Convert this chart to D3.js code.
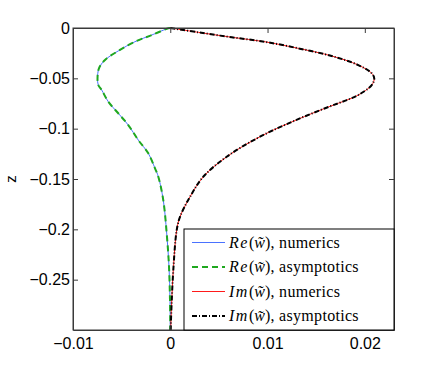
<!DOCTYPE html>
<html>
<head>
<meta charset="utf-8">
<script src="https://cdn.jsdelivr.net/npm/d3@7"></script>
<style>
    body { margin: 0; background: #fff; }
    svg { display: block; }
    .tick text { font-family: "Liberation Sans", Arial, sans-serif; font-size: 16px; fill: #000; }
</style>
</head>
<body>
<div id="chart"></div>
<script>
// depth values (z) and the profiles at those depths
const reZ = [0, -0.0003, -0.007, -0.0136, -0.0228, -0.0318, -0.04, -0.05, -0.0566, -0.0616, -0.0732,
    -0.0847, -0.0964, -0.1113, -0.1245, -0.1394, -0.1477, -0.1709, -0.2037, -0.2371, -0.27, -0.3];
const reNumerics = [0, -0.0002, -0.00191, -0.00363, -0.00535, -0.00671, -0.00733, -0.00748, -0.0074, -0.00705, -0.00637,
    -0.00535, -0.00432, -0.00329, -0.00226, -0.00157, -0.00123, -0.00072, -0.00037, -0.00013, -0.00003, 0];
const reAsymptotics = [0, -0.0002, -0.00191, -0.00363, -0.00535, -0.00671, -0.00733, -0.00748, -0.0074, -0.00705, -0.00637,
    -0.00535, -0.00432, -0.00329, -0.00226, -0.00157, -0.00123, -0.00072, -0.00037, -0.00013, -0.00003, 0];

const imZ = [0, -0.0043, -0.0092, -0.0137, -0.0202, -0.0278, -0.0368, -0.045, -0.05, -0.0567, -0.0666,
    -0.0716, -0.0782, -0.0915, -0.108, -0.1279, -0.1478, -0.1677, -0.1876, -0.2008, -0.2406, -0.2734, -0.3];
const imNumerics = [0, 0.00288, 0.00631, 0.00974, 0.01316, 0.01659, 0.01933, 0.02071, 0.02097, 0.02071, 0.01933,
    0.01814, 0.01632, 0.01292, 0.00922, 0.0058, 0.00339, 0.00203, 0.001, 0.00066, 0.00031, 0.00014, 0.00004];
const imAsymptotics = [0, 0.00288, 0.00631, 0.00974, 0.01316, 0.01659, 0.01933, 0.02071, 0.02097, 0.02071, 0.01933,
    0.01814, 0.01632, 0.01292, 0.00922, 0.0058, 0.00339, 0.00203, 0.001, 0.00066, 0.00031, 0.00014, 0.00004];

const xTicks = [-0.01, 0, 0.01, 0.02];
const yTicks = [0, -0.05, -0.1, -0.15, -0.2, -0.25];

const series = [
    { part: 'Re', label: 'numerics', z: reZ, values: reNumerics, color: '#4a72ff', width: 1, dash: null },
    { part: 'Re', label: 'asymptotics', z: reZ, values: reAsymptotics, color: '#1fa81f', width: 2, dash: '6,4' },
    { part: 'Im', label: 'numerics', z: imZ, values: imNumerics, color: '#ff1a1a', width: 1, dash: null },
    { part: 'Im', label: 'asymptotics', z: imZ, values: imAsymptotics, color: '#000', width: 2, dash: '5,2,1,2' }
];

const W = 436, H = 371;
const margin = { top: 28, right: 42, bottom: 41, left: 73 };
const width = W - margin.left - margin.right;
const height = H - margin.top - margin.bottom;

const svg = d3.select('#chart').append('svg')
    .attr('width', W)
    .attr('height', H);

const g = svg.append('g')
    .attr('transform', `translate(${margin.left},${margin.top})`);

const x = d3.scaleLinear().domain([-0.01, 0.023]).range([0, width]);
const y = d3.scaleLinear().domain([-0.3, 0]).range([height, 0]);

const fmt = d => d === 0 ? '0' : d3.format('')(d).replace('-', '\u2212');

// curves
const line = d3.line()
    .x(d => x(d[0]))
    .y(d => y(d[1]))
    .curve(d3.curveCatmullRom);

series.forEach(s => {
    g.append('path')
        .datum(s.values.map((v, i) => [v, s.z[i]]))
        .attr('fill', 'none')
        .attr('stroke', s.color)
        .attr('stroke-width', s.width)
        .attr('stroke-dasharray', s.dash)
        .attr('d', line);
});

// axes, ticks pointing inwards on all four sides
g.append('g')
    .attr('transform', `translate(0,${height})`)
    .call(d3.axisBottom(x).tickValues(xTicks).tickFormat(fmt).tickSizeInner(-5).tickSizeOuter(0).tickPadding(8));
g.append('g')
    .call(d3.axisLeft(y).tickValues(yTicks).tickFormat(fmt).tickSizeInner(-5).tickSizeOuter(0).tickPadding(3));
g.append('g')
    .call(d3.axisTop(x).tickValues(xTicks).tickFormat('').tickSizeInner(-5).tickSizeOuter(0));
g.append('g')
    .attr('transform', `translate(${width},0)`)
    .call(d3.axisRight(y).tickValues(yTicks).tickFormat('').tickSizeInner(-5).tickSizeOuter(0));

g.selectAll('.domain, .tick line').attr('stroke', '#3a3a3a');
g.selectAll('.tick text').attr('fill', '#000');

g.append('rect')
    .attr('width', width)
    .attr('height', height)
    .attr('fill', 'none')
    .attr('stroke', '#3a3a3a');

svg.append('text')
    .attr('transform', `translate(16,${margin.top + height / 2}) rotate(-90)`)
    .attr('text-anchor', 'middle')
    .style('font-family', '"Liberation Sans", Arial, sans-serif')
    .style('font-size', '15px')
    .text('z');

// legend
const legend = g.append('g')
    .attr('transform', `translate(${x(-0.01) + 111},${201})`);

legend.append('rect')
    .attr('width', 210)
    .attr('height', 101)
    .attr('fill', '#fff')
    .attr('stroke', '#000');

const item = legend.selectAll('.legend-item')
    .data(series)
    .enter()
    .append('g')
    .attr('class', 'legend-item')
    .attr('transform', (d, i) => `translate(0,${13.5 + i * 24.5})`);

item.append('line')
    .attr('x1', 8)
    .attr('x2', 41)
    .attr('stroke', d => d.color)
    .attr('stroke-width', d => d.width)
    .attr('stroke-dasharray', d => d.dash);

const label = item.append('text')
    .attr('x', 45)
    .attr('dy', '0.33em')
    .style('font-family', '"Liberation Serif", "DejaVu Serif", serif')
    .style('font-size', '16px');

label.append('tspan').style('font-style', 'italic').attr('letter-spacing', 1.5).text(d => d.part);
label.append('tspan').text('(');
label.append('tspan').style('font-style', 'italic').text('w\u0303');
label.append('tspan').attr('letter-spacing', 0.3).text(d => '), ' + d.label);
</script>
</body>
</html>
